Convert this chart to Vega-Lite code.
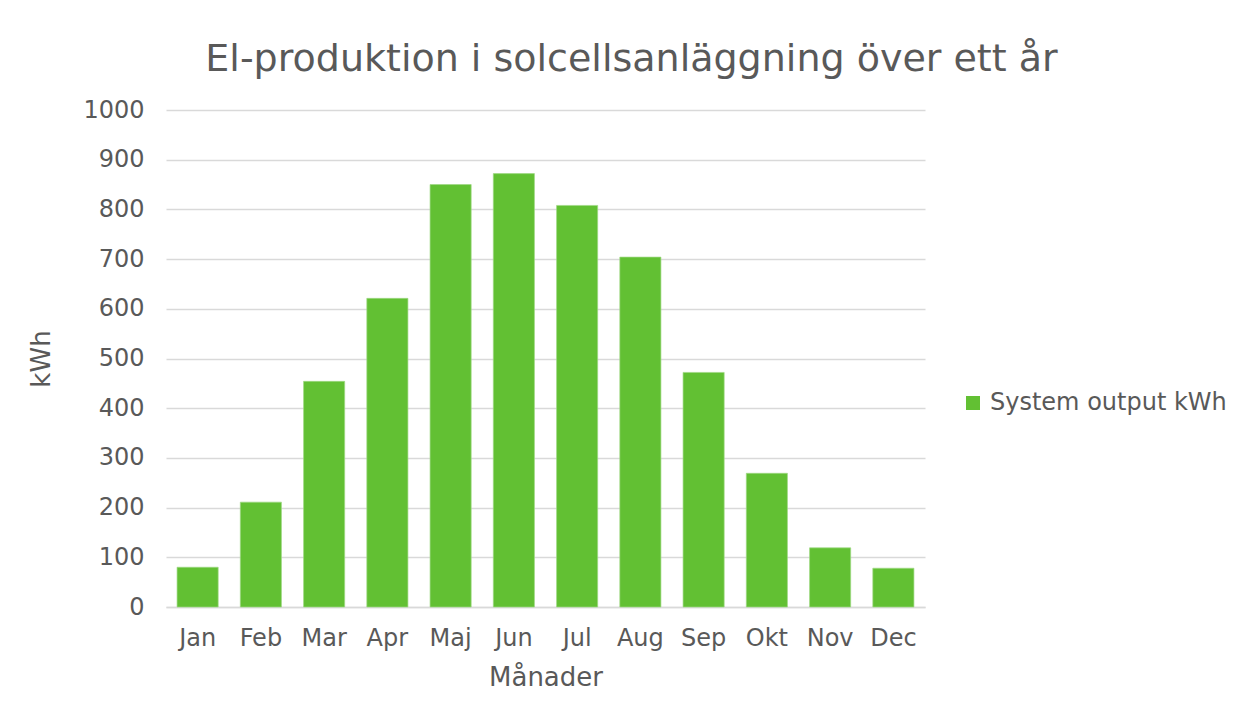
{
  "$schema": "https://vega.github.io/schema/vega-lite/v6.json",
  "autosize": {"type": "none"},
  "width": 759,
  "height": 497,
  "padding": {"left": 166, "top": 110, "right": 313, "bottom": 110},
  "background": "white",
  "title": {
    "text": "El-produktion i solcellsanläggning över ett år",
    "anchor": "middle",
    "frame": "group",
    "dx": 86,
    "offset": 19,
    "fontSize": 38,
    "font": "DejaVu Sans",
    "fontWeight": "normal",
    "color": "#595959"
  },
  "data": {
    "values": [
      {"month": "Jan", "kwh": 80, "series": "System output kWh"},
      {"month": "Feb", "kwh": 211, "series": "System output kWh"},
      {"month": "Mar", "kwh": 454, "series": "System output kWh"},
      {"month": "Apr", "kwh": 621, "series": "System output kWh"},
      {"month": "Maj", "kwh": 850, "series": "System output kWh"},
      {"month": "Jun", "kwh": 872, "series": "System output kWh"},
      {"month": "Jul", "kwh": 808, "series": "System output kWh"},
      {"month": "Aug", "kwh": 704, "series": "System output kWh"},
      {"month": "Sep", "kwh": 472, "series": "System output kWh"},
      {"month": "Okt", "kwh": 269, "series": "System output kWh"},
      {"month": "Nov", "kwh": 119, "series": "System output kWh"},
      {"month": "Dec", "kwh": 78, "series": "System output kWh"}
    ]
  },
  "mark": {"type": "bar", "stroke": "#9fd884", "strokeWidth": 0.7},
  "encoding": {
    "x": {
      "field": "month",
      "type": "nominal",
      "sort": null,
      "scale": {"paddingInner": 0.35, "paddingOuter": 0.175},
      "axis": {
        "title": "Månader",
        "labelAngle": 0,
        "ticks": false,
        "labelPadding": 19,
        "titlePadding": 14,
        "domainColor": "#d9d9d9",
        "domainWidth": 1.5
      }
    },
    "y": {
      "field": "kwh",
      "type": "quantitative",
      "scale": {"domain": [0, 1000]},
      "axis": {
        "title": "kWh",
        "format": "d",
        "values": [0, 100, 200, 300, 400, 500, 600, 700, 800, 900, 1000],
        "ticks": false,
        "domain": false,
        "labelPadding": 22,
        "titlePadding": 28,
        "gridColor": "#d9d9d9",
        "gridWidth": 1.5
      }
    },
    "color": {
      "field": "series",
      "type": "nominal",
      "scale": {"range": ["#62c033"]},
      "legend": {
        "title": null,
        "orient": "none",
        "legendX": 795,
        "legendY": 281,
        "symbolType": "square",
        "symbolSize": 196,
        "symbolStrokeWidth": 0,
        "labelFontSize": 24,
        "labelFont": "DejaVu Sans",
        "labelColor": "#595959",
        "labelOffset": 5,
        "labelLimit": 400
      }
    }
  },
  "config": {
    "font": "DejaVu Sans",
    "view": {"stroke": null},
    "axis": {
      "labelFont": "DejaVu Sans",
      "titleFont": "DejaVu Sans",
      "labelFontSize": 24,
      "titleFontSize": 26,
      "titleFontWeight": "normal",
      "labelColor": "#595959",
      "titleColor": "#595959"
    }
  }
}
